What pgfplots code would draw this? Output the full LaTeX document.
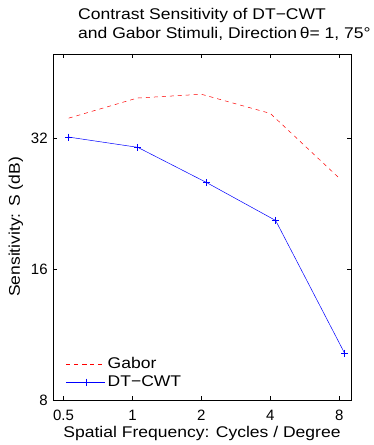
\documentclass[border=0pt]{standalone}
\usepackage{fontspec}
\setmainfont{Liberation Sans}[FakeStretch=1.13]
\newfontfamily\tickfont{Liberation Sans}
\usepackage{pgfplots}
\pgfplotsset{compat=1.18}
\begin{document}
\fontsize{15.5}{19}\selectfont
\begin{tikzpicture}[x=1pt,y=1pt]
\path[use as bounding box] (0,0) rectangle (374,445);
\begin{axis}[
  at={(53pt,45pt)}, anchor=south west,
  scale only axis, width=298pt, height=346pt,
  xmode=log, ymode=log, log basis x=2, log basis y=2,
  xmin=0.45, xmax=9, ymin=8, ymax=50,
  xtick={0.5,1,2,4,8}, xticklabels={0.5,1,2,4,8},
  ytick={8,16,32}, yticklabels={8,16,32},
  minor tick num=0,
  tick align=inside, major tick length=4pt,
  axis line style={line width=0.8pt},
  every tick/.style={line width=0.8pt, black},
  ticklabel style={font=\tickfont\fontsize{15}{18}\selectfont},
  xticklabel style={yshift=-5pt},
  /pgf/number format/assume math mode=true,
  xlabel={Spatial Frequency: Cycles / Degree},
  ylabel={Sensitivity: S (dB)},
  xlabel style={at={(axis description cs:0.5,0)}, anchor=base, yshift=-38pt, font=\fontsize{15.5}{18}\selectfont},
  ylabel style={at={([xshift=-33pt]axis description cs:0,0.5)}, anchor=base, font=\fontsize{15.5}{18}\selectfont},
  legend style={draw=none, fill=none, at={([xshift=13pt,yshift=9pt]rel axis cs:0,0)}, anchor=south west,
    font=\fontsize{15.5}{18}\selectfont, row sep=1pt, inner sep=0pt},
  legend cell align=left,
  legend image code/.code={\draw[mark repeat=2,mark phase=2,#1] plot coordinates {(0pt,0pt) (19.5pt,0pt) (39pt,0pt)};},
]
\addplot[red, line width=0.5pt, dash pattern=on 4pt off 4pt] coordinates {
 (0.527,35.6) (1.05,39.6) (2.0,40.4) (4.0,36.5) (8.0,25.9)};
\addlegendentry{Gabor}
\addplot[blue, line width=0.5pt, mark=+, mark size=3.5pt, mark options={solid, line width=0.8pt}] coordinates {
 (0.527,32.2) (1.055,30.5) (2.11,25.3) (4.22,20.7) (8.44,10.25)};
\addlegendentry{DT−CWT}
\end{axis}
\node[anchor=base west, inner sep=0pt] at (78,425) {Contrast Sensitivity of DT−CWT};
\node[anchor=base west, inner sep=0pt] at (78,406) {and Gabor Stimuli, Direction\,θ= 1, 75°};
\end{tikzpicture}
\end{document}
